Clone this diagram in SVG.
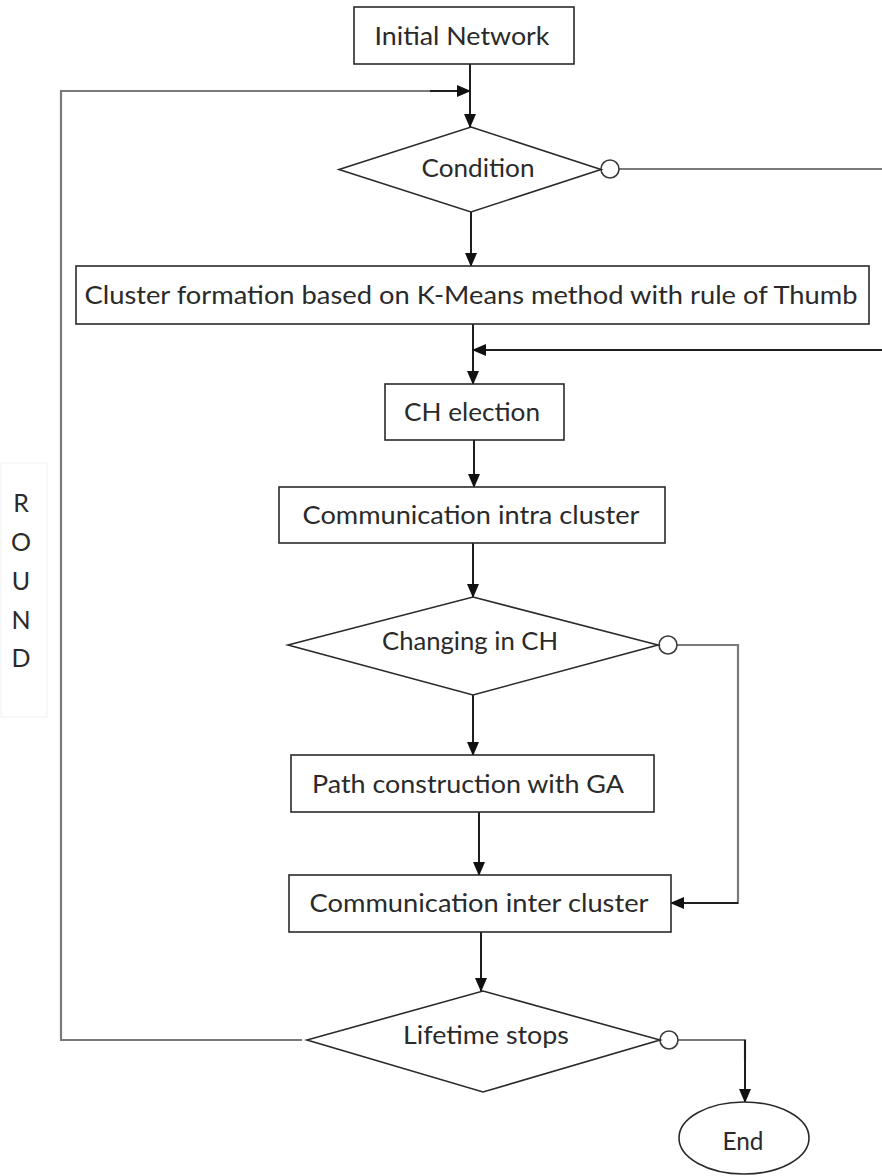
<svg xmlns="http://www.w3.org/2000/svg" width="882" height="1176" viewBox="0 0 882 1176">
  <style>
    .box { fill: #ffffff; stroke: #2a2a2a; stroke-width: 1.6; }
    .dia { fill: #ffffff; stroke: #2a2a2a; stroke-width: 1.6; }
    .lbl { font-family: Lato, "Liberation Sans", sans-serif; font-size: 25px; fill: #2a2a2a; text-anchor: middle; }
    .flow { fill: none; stroke: #1e1e1e; stroke-width: 2; }
    .loop { fill: none; stroke: #7a7a7a; stroke-width: 2.2; }
    .port { fill: #ffffff; stroke: #3a3a3a; stroke-width: 1.6; }
  </style>
  <defs>
    <marker id="arrow" markerUnits="userSpaceOnUse" markerWidth="14" markerHeight="12" refX="13" refY="6" orient="auto">
      <path d="M0,0 L14,6 L0,12 z" fill="#111"/>
    </marker>
  </defs>
  <rect width="882" height="1176" fill="#ffffff"/>

  <!-- side label for the loop -->
  <g id="round-label">
    <rect x="1" y="463" width="46" height="254" fill="none" stroke="#f0f0f0" stroke-width="1"/>
    <text class="lbl" x="21" y="512" font-size="23">R</text>
    <text class="lbl" x="21" y="551" font-size="23">O</text>
    <text class="lbl" x="21" y="590" font-size="23">U</text>
    <text class="lbl" x="21" y="629" font-size="23">N</text>
    <text class="lbl" x="21" y="667" font-size="23">D</text>
  </g>

  <!-- connectors -->
  <g id="connectors">
    <!-- main vertical flow -->
    <line class="flow" x1="470" y1="64" x2="470" y2="127" marker-end="url(#arrow)"/>
    <line class="flow" x1="471" y1="212" x2="471" y2="266" marker-end="url(#arrow)"/>
    <line class="flow" x1="473" y1="324" x2="473" y2="384" marker-end="url(#arrow)"/>
    <line class="flow" x1="474" y1="440" x2="474" y2="487" marker-end="url(#arrow)"/>
    <line class="flow" x1="473" y1="543" x2="473" y2="597" marker-end="url(#arrow)"/>
    <line class="flow" x1="473" y1="695" x2="473" y2="755" marker-end="url(#arrow)"/>
    <line class="flow" x1="479" y1="812" x2="479" y2="875" marker-end="url(#arrow)"/>
    <line class="flow" x1="481" y1="932" x2="481" y2="991" marker-end="url(#arrow)"/>

    <!-- round loop back to Condition -->
    <polyline class="loop" points="302,1040 61,1040 61,91 440,91"/>
    <line class="flow" x1="430" y1="91" x2="470" y2="91" marker-end="url(#arrow)"/>

    <!-- Condition "no" branch leaves to the right -->
    <line class="loop" x1="619" y1="169" x2="882" y2="169"/>
    <!-- return from the right into CH election -->
    <line class="flow" x1="882" y1="350" x2="473" y2="350" marker-end="url(#arrow)"/>

    <!-- Changing in CH bypass to inter-cluster communication -->
    <polyline class="loop" points="677,645 738,645 738,903 700,903"/>
    <line class="flow" x1="738" y1="903" x2="671" y2="903" marker-end="url(#arrow)"/>

    <!-- Lifetime stops to End -->
    <polyline class="loop" points="678,1040 745,1040 745,1060"/>
    <line class="flow" x1="745" y1="1040" x2="745" y2="1102" marker-end="url(#arrow)"/>

    <!-- decision ports -->
    <circle class="port" cx="610" cy="169" r="9"/>
    <circle class="port" cx="668" cy="645" r="9"/>
    <circle class="port" cx="669" cy="1040" r="9"/>
  </g>

  <g id="initial-network">
    <rect class="box" x="354" y="7" width="220" height="57"/>
    <text class="lbl" x="462" y="45" textLength="175" lengthAdjust="spacingAndGlyphs">Initial Network</text>
  </g>

  <g id="condition">
    <polygon class="dia" points="471,127 601,169.5 471,212 339,169.5"/>
    <text class="lbl" x="478" y="177" textLength="113" lengthAdjust="spacingAndGlyphs">Condition</text>
  </g>

  <g id="cluster-formation">
    <rect class="box" x="76" y="266" width="793" height="58"/>
    <text class="lbl" x="471" y="304" textLength="773" lengthAdjust="spacingAndGlyphs">Cluster formation based on K-Means method with rule of Thumb</text>
  </g>

  <g id="ch-election">
    <rect class="box" x="385" y="384" width="179" height="56"/>
    <text class="lbl" x="472" y="421" textLength="136" lengthAdjust="spacingAndGlyphs">CH election</text>
  </g>

  <g id="communication-intra">
    <rect class="box" x="279" y="487" width="386" height="56"/>
    <text class="lbl" x="471" y="524" textLength="337" lengthAdjust="spacingAndGlyphs">Communication intra cluster</text>
  </g>

  <g id="changing-in-ch">
    <polygon class="dia" points="473,597 658,645 473,695 288,645"/>
    <text class="lbl" x="470" y="650" textLength="176" lengthAdjust="spacingAndGlyphs">Changing in CH</text>
  </g>

  <g id="path-construction">
    <rect class="box" x="291" y="755" width="363" height="57"/>
    <text class="lbl" x="468" y="793" textLength="312" lengthAdjust="spacingAndGlyphs">Path construction with GA</text>
  </g>

  <g id="communication-inter">
    <rect class="box" x="289" y="875" width="382" height="57"/>
    <text class="lbl" x="479" y="912" textLength="339" lengthAdjust="spacingAndGlyphs">Communication inter cluster</text>
  </g>

  <g id="lifetime-stops">
    <polygon class="dia" points="483,991 660,1040 483,1092 307,1040"/>
    <text class="lbl" x="486" y="1044" textLength="166" lengthAdjust="spacingAndGlyphs">Lifetime stops</text>
  </g>

  <g id="end">
    <ellipse class="box" cx="744" cy="1138" rx="65" ry="36"/>
    <text class="lbl" x="743" y="1150" textLength="41" lengthAdjust="spacingAndGlyphs">End</text>
  </g>
</svg>
